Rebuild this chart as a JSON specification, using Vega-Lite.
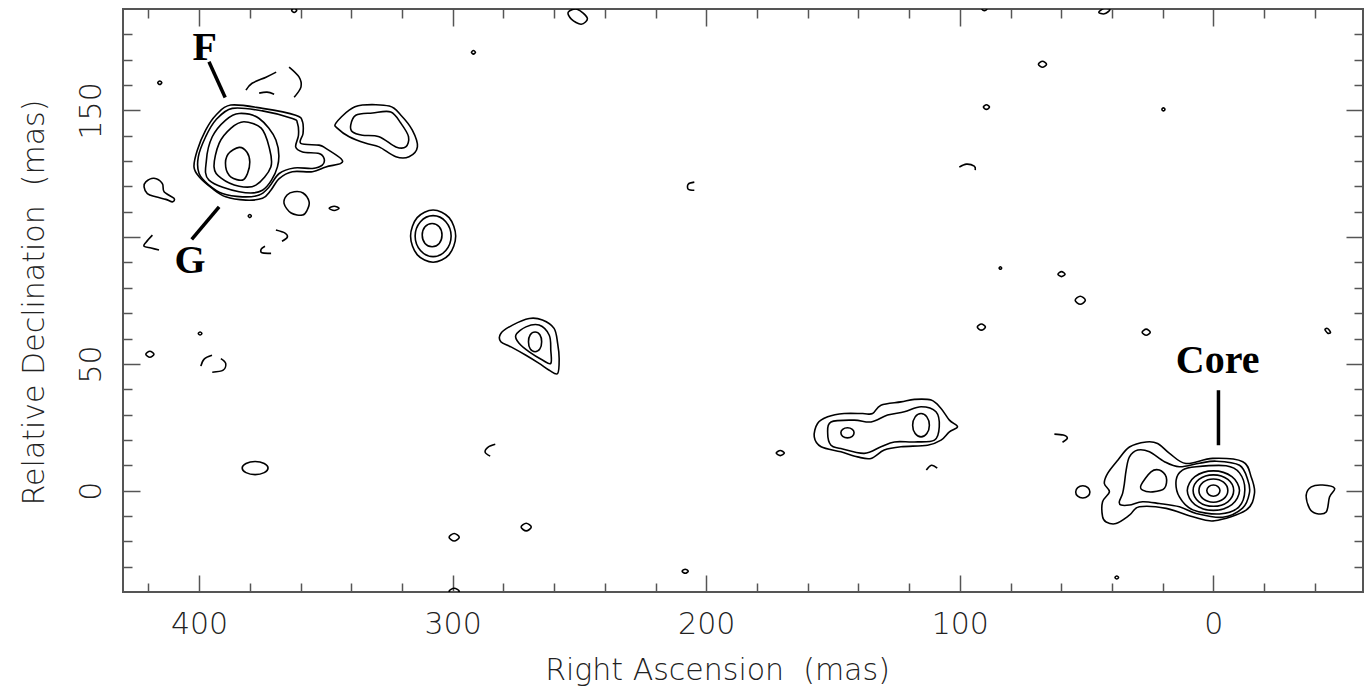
{
"$schema":"https://vega.github.io/schema/vega-lite/v6.json",
"width":1240,"height":583,
"autosize":"none",
"padding":{"left":123,"top":9,"right":1,"bottom":94},
"background":"white",
"view":{"stroke":"#555","strokeWidth":2},
"config":{"axis":{"labelFont":"DejaVu Sans","labelFontSize":30,"labelFontWeight":200,"labelColor":"#222","titleFont":"DejaVu Sans","titleFontSize":30,"titleFontWeight":200,"titleColor":"#222","tickColor":"#555","tickWidth":1.5,"domain":false,"grid":false,"labelFlush":false,"labelOverlap":false}},
"datasets":{
"closed":[
{"c":1,"i":0,"x":387.5,"y":152.1},{"c":1,"i":1,"x":375.0,"y":150.8},{"c":1,"i":2,"x":361.9,"y":148.1},{"c":1,"i":3,"x":359.2,"y":145.5},{"c":1,"i":4,"x":359.0,"y":140.9},{"c":1,"i":5,"x":359.9,"y":137.0},{"c":1,"i":6,"x":352.7,"y":136.3},{"c":1,"i":7,"x":350.0,"y":135.0},{"c":1,"i":8,"x":344.1,"y":131.0},{"c":1,"i":9,"x":344.1,"y":129.1},{"c":1,"i":10,"x":350.0,"y":127.7},{"c":1,"i":11,"x":355.3,"y":125.8},{"c":1,"i":12,"x":363.2,"y":125.8},{"c":1,"i":13,"x":368.4,"y":123.1},{"c":1,"i":14,"x":371.7,"y":118.5},{"c":1,"i":15,"x":375.0,"y":115.3},{"c":1,"i":16,"x":381.6,"y":114.6},{"c":1,"i":17,"x":389.5,"y":115.9},{"c":1,"i":18,"x":394.8,"y":119.2},{"c":1,"i":19,"x":400.0,"y":123.8},{"c":1,"i":20,"x":402.0,"y":127.7},{"c":1,"i":21,"x":400.7,"y":134.3},{"c":1,"i":22,"x":397.4,"y":142.2},{"c":1,"i":23,"x":393.4,"y":148.1},
{"c":2,"i":0,"x":386.9,"y":150.8},{"c":2,"i":1,"x":375.0,"y":149.8},{"c":2,"i":2,"x":363.2,"y":146.8},{"c":2,"i":3,"x":361.2,"y":144.9},{"c":2,"i":4,"x":360.8,"y":140.2},{"c":2,"i":5,"x":361.9,"y":135.6},{"c":2,"i":6,"x":359.2,"y":133.6},{"c":2,"i":7,"x":352.7,"y":133.0},{"c":2,"i":8,"x":350.7,"y":131.0},{"c":2,"i":9,"x":351.4,"y":128.4},{"c":2,"i":10,"x":355.3,"y":127.1},{"c":2,"i":11,"x":362.5,"y":127.3},{"c":2,"i":12,"x":368.4,"y":125.1},{"c":2,"i":13,"x":372.4,"y":119.8},{"c":2,"i":14,"x":376.3,"y":116.6},{"c":2,"i":15,"x":382.9,"y":115.9},{"c":2,"i":16,"x":390.8,"y":117.2},{"c":2,"i":17,"x":396.1,"y":120.5},{"c":2,"i":18,"x":400.0,"y":125.1},{"c":2,"i":19,"x":400.3,"y":131.7},{"c":2,"i":20,"x":397.4,"y":139.6},{"c":2,"i":21,"x":393.4,"y":146.2},
{"c":3,"i":0,"x":384.2,"y":148.8},{"c":3,"i":1,"x":376.3,"y":146.8},{"c":3,"i":2,"x":369.7,"y":138.3},{"c":3,"i":3,"x":369.1,"y":127.7},{"c":3,"i":4,"x":375.0,"y":118.5},{"c":3,"i":5,"x":384.2,"y":117.9},{"c":3,"i":6,"x":396.1,"y":122.5},{"c":3,"i":7,"x":397.1,"y":130.4},{"c":3,"i":8,"x":394.8,"y":139.6},{"c":3,"i":9,"x":389.5,"y":146.2},
{"c":4,"i":0,"x":382.3,"y":145.5},{"c":4,"i":1,"x":375.5,"y":143.0},{"c":4,"i":2,"x":372.4,"y":135.6},{"c":4,"i":3,"x":371.7,"y":127.7},{"c":4,"i":4,"x":377.6,"y":120.5},{"c":4,"i":5,"x":384.2,"y":120.1},{"c":4,"i":6,"x":391.3,"y":123.3},{"c":4,"i":7,"x":394.1,"y":127.7},{"c":4,"i":8,"x":392.1,"y":137.0},{"c":4,"i":9,"x":387.4,"y":143.0},
{"c":5,"i":0,"x":384.2,"y":135.4},{"c":5,"i":1,"x":381.1,"y":133.5},{"c":5,"i":2,"x":380.0,"y":129.6},{"c":5,"i":3,"x":380.9,"y":125.1},{"c":5,"i":4,"x":382.9,"y":122.5},{"c":5,"i":5,"x":387.4,"y":123.7},{"c":5,"i":6,"x":389.5,"y":127.7},{"c":5,"i":7,"x":388.6,"y":132.7},
{"c":6,"i":0,"x":421.0,"y":121.8},{"c":6,"i":1,"x":417.8,"y":123.2},{"c":6,"i":2,"x":414.5,"y":121.2},{"c":6,"i":3,"x":413.8,"y":117.9},{"c":6,"i":4,"x":409.9,"y":115.3},{"c":6,"i":5,"x":410.5,"y":113.9},{"c":6,"i":6,"x":413.1,"y":114.9},{"c":6,"i":7,"x":417.1,"y":115.9},{"c":6,"i":8,"x":420.4,"y":117.2},{"c":6,"i":9,"x":421.7,"y":119.8},
{"c":7,"i":0,"x":362.5,"y":117.9},{"c":7,"i":1,"x":359.0,"y":117.4},{"c":7,"i":2,"x":356.6,"y":113.9},{"c":7,"i":3,"x":357.4,"y":110.6},{"c":7,"i":4,"x":359.2,"y":108.7},{"c":7,"i":5,"x":363.7,"y":109.5},{"c":7,"i":6,"x":366.5,"y":113.3},{"c":7,"i":7,"x":365.3,"y":116.6},
{"c":8,"i":0,"x":348.7,"y":111.4},{"c":8,"i":1,"x":346.7,"y":112.2},{"c":8,"i":2,"x":344.8,"y":111.4},{"c":8,"i":3,"x":346.7,"y":110.5},
{"c":9,"i":0,"x":380.6,"y":108.3},{"c":9,"i":1,"x":380.0,"y":108.9},{"c":9,"i":2,"x":379.4,"y":108.3},{"c":9,"i":3,"x":380.0,"y":107.7},
{"c":10,"i":0,"x":416.3,"y":160.9},{"c":10,"i":1,"x":415.5,"y":161.6},{"c":10,"i":2,"x":414.7,"y":160.9},{"c":10,"i":3,"x":415.5,"y":160.2},
{"c":11,"i":0,"x":346.1,"y":144.9},{"c":11,"i":1,"x":340.8,"y":150.1},{"c":11,"i":2,"x":335.6,"y":152.1},{"c":11,"i":3,"x":325.0,"y":151.7},{"c":11,"i":4,"x":320.4,"y":148.1},{"c":11,"i":5,"x":315.9,"y":142.2},{"c":11,"i":6,"x":313.9,"y":135.6},{"c":11,"i":7,"x":317.2,"y":131.7},{"c":11,"i":8,"x":322.4,"y":131.7},{"c":11,"i":9,"x":329.0,"y":135.6},{"c":11,"i":10,"x":334.2,"y":137.0},{"c":11,"i":11,"x":340.8,"y":139.6},{"c":11,"i":12,"x":345.4,"y":142.9},
{"c":12,"i":0,"x":340.2,"y":144.2},{"c":12,"i":1,"x":338.2,"y":148.1},{"c":12,"i":2,"x":331.6,"y":149.0},{"c":12,"i":3,"x":324.4,"y":149.4},{"c":12,"i":4,"x":320.4,"y":144.9},{"c":12,"i":5,"x":317.4,"y":139.6},{"c":12,"i":6,"x":318.5,"y":135.6},{"c":12,"i":7,"x":322.4,"y":135.6},{"c":12,"i":8,"x":329.0,"y":139.6},{"c":12,"i":9,"x":335.6,"y":140.2},{"c":12,"i":10,"x":339.5,"y":141.5},
{"c":13,"i":0,"x":316.6,"y":100.4},{"c":13,"i":1,"x":314.0,"y":107.7},{"c":13,"i":2,"x":307.7,"y":110.7},{"c":13,"i":3,"x":301.4,"y":107.7},{"c":13,"i":4,"x":298.8,"y":100.4},{"c":13,"i":5,"x":301.4,"y":93.1},{"c":13,"i":6,"x":307.7,"y":90.1},{"c":13,"i":7,"x":314.0,"y":93.1},
{"c":14,"i":0,"x":314.8,"y":100.4},{"c":14,"i":1,"x":312.7,"y":106.1},{"c":14,"i":2,"x":307.7,"y":108.5},{"c":14,"i":3,"x":302.7,"y":106.1},{"c":14,"i":4,"x":300.6,"y":100.4},{"c":14,"i":5,"x":302.7,"y":94.7},{"c":14,"i":6,"x":307.7,"y":92.3},{"c":14,"i":7,"x":312.7,"y":94.7},
{"c":15,"i":0,"x":312.0,"y":100.8},{"c":15,"i":1,"x":310.9,"y":104.1},{"c":15,"i":2,"x":308.1,"y":105.4},{"c":15,"i":3,"x":305.3,"y":104.1},{"c":15,"i":4,"x":304.2,"y":100.8},{"c":15,"i":5,"x":305.3,"y":97.5},{"c":15,"i":6,"x":308.1,"y":96.2},{"c":15,"i":7,"x":310.9,"y":97.5},
{"c":16,"i":0,"x":281.0,"y":62.0},{"c":16,"i":1,"x":276.4,"y":65.3},{"c":16,"i":2,"x":269.8,"y":67.9},{"c":16,"i":3,"x":264.6,"y":67.3},{"c":16,"i":4,"x":260.0,"y":64.0},{"c":16,"i":5,"x":258.6,"y":58.1},{"c":16,"i":6,"x":258.0,"y":52.1},{"c":16,"i":7,"x":258.6,"y":46.2},{"c":16,"i":8,"x":261.9,"y":47.5},{"c":16,"i":9,"x":265.9,"y":50.2},{"c":16,"i":10,"x":271.1,"y":53.4},{"c":16,"i":11,"x":277.0,"y":56.7},{"c":16,"i":12,"x":281.0,"y":58.7},
{"c":17,"i":0,"x":275.1,"y":61.3},{"c":17,"i":1,"x":271.1,"y":64.6},{"c":17,"i":2,"x":265.9,"y":65.3},{"c":17,"i":3,"x":261.9,"y":61.3},{"c":17,"i":4,"x":261.3,"y":55.4},{"c":17,"i":5,"x":261.3,"y":50.2},{"c":17,"i":6,"x":264.6,"y":51.5},{"c":17,"i":7,"x":269.8,"y":54.7},{"c":17,"i":8,"x":273.8,"y":58.1},
{"c":18,"i":0,"x":270.1,"y":58.7},{"c":18,"i":1,"x":269.4,"y":61.5},{"c":18,"i":2,"x":267.5,"y":62.6},{"c":18,"i":3,"x":265.6,"y":61.5},{"c":18,"i":4,"x":264.9,"y":58.7},{"c":18,"i":5,"x":265.6,"y":55.9},{"c":18,"i":6,"x":267.5,"y":54.8},{"c":18,"i":7,"x":269.4,"y":55.9},
{"c":19,"i":0,"x":157.4,"y":21.2},{"c":19,"i":1,"x":156.1,"y":26.5},{"c":19,"i":2,"x":152.1,"y":29.1},{"c":19,"i":3,"x":145.6,"y":30.4},{"c":19,"i":4,"x":138.3,"y":30.4},{"c":19,"i":5,"x":134.4,"y":30.4},{"c":19,"i":6,"x":131.1,"y":33.7},{"c":19,"i":7,"x":123.2,"y":35.0},{"c":19,"i":8,"x":117.9,"y":36.0},{"c":19,"i":9,"x":111.3,"y":35.7},{"c":19,"i":10,"x":107.4,"y":32.4},{"c":19,"i":11,"x":104.1,"y":27.8},{"c":19,"i":12,"x":100.9,"y":25.2},{"c":19,"i":13,"x":104.1,"y":23.2},{"c":19,"i":14,"x":107.4,"y":19.9},{"c":19,"i":15,"x":112.7,"y":17.9},{"c":19,"i":16,"x":123.2,"y":17.3},{"c":19,"i":17,"x":129.8,"y":16.0},{"c":19,"i":18,"x":135.0,"y":12.7},{"c":19,"i":19,"x":140.3,"y":13.3},{"c":19,"i":20,"x":146.9,"y":15.3},{"c":19,"i":21,"x":154.7,"y":17.3},
{"c":20,"i":0,"x":152.1,"y":22.5},{"c":20,"i":1,"x":150.8,"y":27.1},{"c":20,"i":2,"x":141.6,"y":27.8},{"c":20,"i":3,"x":135.0,"y":27.1},{"c":20,"i":4,"x":128.5,"y":29.8},{"c":20,"i":5,"x":121.9,"y":31.1},{"c":20,"i":6,"x":115.3,"y":33.1},{"c":20,"i":7,"x":109.4,"y":31.1},{"c":20,"i":8,"x":108.1,"y":25.2},{"c":20,"i":9,"x":110.0,"y":19.9},{"c":20,"i":10,"x":117.9,"y":19.2},{"c":20,"i":11,"x":125.8,"y":19.2},{"c":20,"i":12,"x":131.1,"y":17.3},{"c":20,"i":13,"x":137.7,"y":14.7},{"c":20,"i":14,"x":146.9,"y":16.6},{"c":20,"i":15,"x":150.8,"y":17.9},
{"c":21,"i":0,"x":118.6,"y":25.8},{"c":21,"i":1,"x":117.6,"y":29.1},{"c":21,"i":2,"x":115.3,"y":30.4},{"c":21,"i":3,"x":113.0,"y":29.1},{"c":21,"i":4,"x":112.0,"y":25.8},{"c":21,"i":5,"x":113.0,"y":22.5},{"c":21,"i":6,"x":115.3,"y":21.2},{"c":21,"i":7,"x":117.6,"y":22.5},
{"c":22,"i":0,"x":146.9,"y":22.8},{"c":22,"i":1,"x":146.2,"y":24.2},{"c":22,"i":2,"x":144.3,"y":24.8},{"c":22,"i":3,"x":142.4,"y":24.2},{"c":22,"i":4,"x":141.7,"y":22.8},{"c":22,"i":5,"x":142.4,"y":21.4},{"c":22,"i":6,"x":144.3,"y":20.8},{"c":22,"i":7,"x":146.2,"y":21.4},
{"c":23,"i":0,"x":43.7,"y":-10.3},{"c":23,"i":1,"x":43.7,"y":-4.4},{"c":23,"i":2,"x":41.0,"y":-0.5},{"c":23,"i":3,"x":43.0,"y":2.8},{"c":23,"i":4,"x":41.7,"y":6.8},{"c":23,"i":5,"x":37.7,"y":12.0},{"c":23,"i":6,"x":33.1,"y":17.2},{"c":23,"i":7,"x":26.5,"y":19.2},{"c":23,"i":8,"x":22.0,"y":18.6},{"c":23,"i":9,"x":17.3,"y":14.7},{"c":23,"i":10,"x":10.8,"y":10.7},{"c":23,"i":11,"x":0.3,"y":12.7},{"c":23,"i":12,"x":-11.6,"y":11.4},{"c":23,"i":13,"x":-14.9,"y":5.4},{"c":23,"i":14,"x":-16.2,"y":-1.1},{"c":23,"i":15,"x":-12.9,"y":-7.7},{"c":23,"i":16,"x":-0.4,"y":-11.9},{"c":23,"i":17,"x":8.1,"y":-10.3},{"c":23,"i":18,"x":18.6,"y":-7.0},{"c":23,"i":19,"x":29.2,"y":-6.4},{"c":23,"i":20,"x":33.1,"y":-9.7},{"c":23,"i":21,"x":38.4,"y":-13.0},{"c":23,"i":22,"x":42.3,"y":-12.4},
{"c":24,"i":0,"x":37.1,"y":-4.4},{"c":24,"i":1,"x":35.8,"y":-1.1},{"c":24,"i":2,"x":35.1,"y":2.8},{"c":24,"i":3,"x":34.4,"y":8.1},{"c":24,"i":4,"x":33.1,"y":13.3},{"c":24,"i":5,"x":29.8,"y":16.0},{"c":24,"i":6,"x":25.2,"y":15.3},{"c":24,"i":7,"x":19.3,"y":11.4},{"c":24,"i":8,"x":13.4,"y":9.4},{"c":24,"i":9,"x":5.5,"y":10.8},{"c":24,"i":10,"x":-1.1,"y":11.6},{"c":24,"i":11,"x":-10.3,"y":10.0},{"c":24,"i":12,"x":-13.6,"y":4.1},{"c":24,"i":13,"x":-14.2,"y":-1.0},{"c":24,"i":14,"x":-11.5,"y":-6.9},{"c":24,"i":15,"x":-3.7,"y":-10.5},{"c":24,"i":16,"x":6.8,"y":-9.0},{"c":24,"i":17,"x":13.4,"y":-6.4},{"c":24,"i":18,"x":21.3,"y":-5.1},{"c":24,"i":19,"x":27.9,"y":-4.4},{"c":24,"i":20,"x":33.1,"y":-5.7},{"c":24,"i":21,"x":36.4,"y":-5.7},
{"c":25,"i":0,"x":14.7,"y":4.1},{"c":25,"i":1,"x":12.2,"y":8.1},{"c":25,"i":2,"x":6.8,"y":9.4},{"c":25,"i":3,"x":-5.0,"y":9.8},{"c":25,"i":4,"x":-10.3,"y":7.0},{"c":25,"i":5,"x":-12.4,"y":0.2},{"c":25,"i":6,"x":-10.0,"y":-6.5},{"c":25,"i":7,"x":-2.4,"y":-9.2},{"c":25,"i":8,"x":8.1,"y":-7.6},{"c":25,"i":9,"x":13.4,"y":-2.5},
{"c":26,"i":0,"x":10.3,"y":0},{"c":26,"i":1,"x":7.3,"y":5.5},{"c":26,"i":2,"x":0,"y":7.8},{"c":26,"i":3,"x":-7.3,"y":5.5},{"c":26,"i":4,"x":-10.3,"y":0},{"c":26,"i":5,"x":-7.3,"y":-5.5},{"c":26,"i":6,"x":0,"y":-7.8},{"c":26,"i":7,"x":7.3,"y":-5.5},
{"c":27,"i":0,"x":8.0,"y":0},{"c":27,"i":1,"x":5.7,"y":4.4},{"c":27,"i":2,"x":0,"y":6.2},{"c":27,"i":3,"x":-5.7,"y":4.4},{"c":27,"i":4,"x":-8.0,"y":0},{"c":27,"i":5,"x":-5.7,"y":-4.4},{"c":27,"i":6,"x":0,"y":-6.2},{"c":27,"i":7,"x":5.7,"y":-4.4},
{"c":28,"i":0,"x":5.7,"y":0},{"c":28,"i":1,"x":4.0,"y":3.3},{"c":28,"i":2,"x":0,"y":4.6},{"c":28,"i":3,"x":-4.0,"y":3.3},{"c":28,"i":4,"x":-5.7,"y":0},{"c":28,"i":5,"x":-4.0,"y":-3.3},{"c":28,"i":6,"x":0,"y":-4.6},{"c":28,"i":7,"x":4.0,"y":-3.3},
{"c":29,"i":0,"x":2.6,"y":0},{"c":29,"i":1,"x":1.8,"y":1.6},{"c":29,"i":2,"x":0,"y":2.2},{"c":29,"i":3,"x":-1.8,"y":1.6},{"c":29,"i":4,"x":-2.6,"y":0},{"c":29,"i":5,"x":-1.8,"y":-1.6},{"c":29,"i":6,"x":0,"y":-2.2},{"c":29,"i":7,"x":1.8,"y":-1.6},
{"c":30,"i":0,"x":28.5,"y":2.2},{"c":30,"i":1,"x":24.6,"y":7.4},{"c":30,"i":2,"x":21.3,"y":8.1},{"c":30,"i":3,"x":18.6,"y":5.4},{"c":30,"i":4,"x":19.3,"y":0.9},{"c":30,"i":5,"x":23.9,"y":-0.5},{"c":30,"i":6,"x":27.9,"y":0.2},
{"c":31,"i":0,"x":54.3,"y":-0.5},{"c":31,"i":1,"x":53.5,"y":1.2},{"c":31,"i":2,"x":51.5,"y":1.9},{"c":31,"i":3,"x":49.5,"y":1.2},{"c":31,"i":4,"x":48.7,"y":-0.5},{"c":31,"i":5,"x":49.5,"y":-2.2},{"c":31,"i":6,"x":51.5,"y":-2.9},{"c":31,"i":7,"x":53.5,"y":-2.2},
{"c":32,"i":0,"x":-36.6,"y":-1.8},{"c":32,"i":1,"x":-38.6,"y":1.5},{"c":32,"i":2,"x":-43.1,"y":2.2},{"c":32,"i":3,"x":-47.8,"y":0.9},{"c":32,"i":4,"x":-45.8,"y":-2.5},{"c":32,"i":5,"x":-44.5,"y":-8.4},{"c":32,"i":6,"x":-40.5,"y":-9.0},{"c":32,"i":7,"x":-37.9,"y":-7.0},
{"c":33,"i":0,"x":254.4,"y":188.8},{"c":33,"i":1,"x":250.9,"y":189.9},{"c":33,"i":2,"x":246.9,"y":186.4},{"c":33,"i":3,"x":249.3,"y":184.0},{"c":33,"i":4,"x":253.2,"y":186.0},
{"c":34,"i":0,"x":292.6,"y":172.9},{"c":34,"i":1,"x":291.8,"y":173.6},{"c":34,"i":2,"x":291.0,"y":172.9},{"c":34,"i":3,"x":291.8,"y":172.2},
{"c":35,"i":0,"x":363.5,"y":189.5},{"c":35,"i":1,"x":362.5,"y":190.4},{"c":35,"i":2,"x":361.5,"y":189.5},{"c":35,"i":3,"x":362.5,"y":188.6},
{"c":36,"i":0,"x":91.3,"y":190.0},{"c":36,"i":1,"x":90.3,"y":190.7},{"c":36,"i":2,"x":89.3,"y":190.0},{"c":36,"i":3,"x":90.3,"y":189.3},
{"c":37,"i":0,"x":45.2,"y":188.7},{"c":37,"i":1,"x":43.0,"y":190.3},{"c":37,"i":2,"x":40.8,"y":189.7},{"c":37,"i":3,"x":43.0,"y":188.1},
{"c":38,"i":0,"x":20.3,"y":150.4},{"c":38,"i":1,"x":19.7,"y":151.0},{"c":38,"i":2,"x":19.1,"y":150.4},{"c":38,"i":3,"x":19.7,"y":149.8},
{"c":39,"i":0,"x":69.0,"y":168.2},{"c":39,"i":1,"x":67.4,"y":169.4},{"c":39,"i":2,"x":65.8,"y":168.2},{"c":39,"i":3,"x":67.4,"y":167.0},
{"c":40,"i":0,"x":90.7,"y":151.3},{"c":40,"i":1,"x":89.5,"y":152.2},{"c":40,"i":2,"x":88.3,"y":151.3},{"c":40,"i":3,"x":89.5,"y":150.4},
{"c":41,"i":0,"x":84.5,"y":87.8},{"c":41,"i":1,"x":84.0,"y":88.3},{"c":41,"i":2,"x":83.5,"y":87.8},{"c":41,"i":3,"x":84.0,"y":87.3},
{"c":42,"i":0,"x":61.3,"y":85.4},{"c":42,"i":1,"x":59.9,"y":86.4},{"c":42,"i":2,"x":58.5,"y":85.4},{"c":42,"i":3,"x":59.9,"y":84.4},
{"c":43,"i":0,"x":54.5,"y":75.1},{"c":43,"i":1,"x":52.5,"y":76.7},{"c":43,"i":2,"x":50.5,"y":75.1},{"c":43,"i":3,"x":52.5,"y":73.5},
{"c":44,"i":0,"x":93.1,"y":64.5},{"c":44,"i":1,"x":91.5,"y":65.7},{"c":44,"i":2,"x":89.9,"y":64.5},{"c":44,"i":3,"x":91.5,"y":63.3},
{"c":45,"i":0,"x":28.1,"y":62.5},{"c":45,"i":1,"x":26.5,"y":63.7},{"c":45,"i":2,"x":24.9,"y":62.5},{"c":45,"i":3,"x":26.5,"y":61.3},
{"c":46,"i":0,"x":-44.0,"y":63.6},{"c":46,"i":1,"x":-45.1,"y":63.9},{"c":46,"i":2,"x":-46.2,"y":62.4},{"c":46,"i":3,"x":-45.1,"y":62.1},
{"c":47,"i":0,"x":172.4,"y":14.8},{"c":47,"i":1,"x":170.8,"y":15.8},{"c":47,"i":2,"x":169.2,"y":14.8},{"c":47,"i":3,"x":170.8,"y":13.8},
{"c":48,"i":0,"x":38.8,"y":-34.3},{"c":48,"i":1,"x":38.1,"y":-33.7},{"c":48,"i":2,"x":37.4,"y":-34.3},{"c":48,"i":3,"x":38.1,"y":-34.9},
{"c":49,"i":0,"x":209.5,"y":-31.8},{"c":49,"i":1,"x":208.3,"y":-31.0},{"c":49,"i":2,"x":207.1,"y":-31.8},{"c":49,"i":3,"x":208.3,"y":-32.6},
{"c":50,"i":0,"x":273.0,"y":-14.4},{"c":50,"i":1,"x":271.0,"y":-12.9},{"c":50,"i":2,"x":269.0,"y":-14.4},{"c":50,"i":3,"x":271.0,"y":-15.9},
{"c":51,"i":0,"x":301.4,"y":-18.4},{"c":51,"i":1,"x":299.4,"y":-16.9},{"c":51,"i":2,"x":297.4,"y":-18.4},{"c":51,"i":3,"x":299.4,"y":-19.9},
{"c":52,"i":0,"x":301.4,"y":-39.7},{"c":52,"i":1,"x":299.4,"y":-38.5},{"c":52,"i":2,"x":297.4,"y":-39.7},{"c":52,"i":3,"x":299.4,"y":-40.9},
{"c":53,"i":0,"x":383.0,"y":8.9},{"c":53,"i":1,"x":381.5,"y":10.7},{"c":53,"i":2,"x":377.9,"y":11.5},{"c":53,"i":3,"x":374.3,"y":10.7},{"c":53,"i":4,"x":372.8,"y":8.9},{"c":53,"i":5,"x":374.3,"y":7.1},{"c":53,"i":6,"x":377.9,"y":6.3},{"c":53,"i":7,"x":381.5,"y":7.1},
{"c":54,"i":0,"x":421.0,"y":53.8},{"c":54,"i":1,"x":419.4,"y":55.0},{"c":54,"i":2,"x":417.8,"y":53.8},{"c":54,"i":3,"x":419.4,"y":52.6},
{"c":55,"i":0,"x":400.3,"y":62.0},{"c":55,"i":1,"x":399.6,"y":62.6},{"c":55,"i":2,"x":398.9,"y":62.0},{"c":55,"i":3,"x":399.6,"y":61.4}
],
"open":[
{"c":1,"i":0,"x":381.5,"y":158.0},{"c":1,"i":1,"x":379.1,"y":160.7},{"c":1,"i":2,"x":373.6,"y":163.1},{"c":1,"i":3,"x":369.6,"y":165.1},
{"c":2,"i":0,"x":376.3,"y":156.8},{"c":2,"i":1,"x":373.2,"y":157.2},{"c":2,"i":2,"x":370.4,"y":156.4},
{"c":3,"i":0,"x":364.5,"y":167.1},{"c":3,"i":1,"x":360.6,"y":163.2},{"c":3,"i":2,"x":359.8,"y":159.3},{"c":3,"i":3,"x":362.5,"y":155.2},
{"c":4,"i":0,"x":418.4,"y":100.8},{"c":4,"i":1,"x":420.9,"y":98.0},{"c":4,"i":2,"x":421.7,"y":96.4},{"c":4,"i":3,"x":418.9,"y":95.7},{"c":4,"i":4,"x":415.8,"y":94.9},
{"c":5,"i":0,"x":369.7,"y":102.8},{"c":5,"i":1,"x":366.1,"y":101.6},{"c":5,"i":2,"x":365.2,"y":100.0},{"c":5,"i":3,"x":367.3,"y":98.4},
{"c":6,"i":0,"x":374.0,"y":96.4},{"c":6,"i":1,"x":375.5,"y":95.3},{"c":6,"i":2,"x":375.2,"y":93.8},{"c":6,"i":3,"x":371.6,"y":93.6},
{"c":7,"i":0,"x":100.2,"y":127.6},{"c":7,"i":1,"x":97.4,"y":128.8},{"c":7,"i":2,"x":94.3,"y":128.0},{"c":7,"i":3,"x":93.9,"y":126.4},
{"c":8,"i":0,"x":204.7,"y":121.7},{"c":8,"i":1,"x":207.1,"y":120.9},{"c":8,"i":2,"x":207.1,"y":118.9},{"c":8,"i":3,"x":204.7,"y":118.5},
{"c":9,"i":0,"x":62.7,"y":22.3},{"c":9,"i":1,"x":59.2,"y":21.9},{"c":9,"i":2,"x":57.6,"y":20.7},{"c":9,"i":3,"x":59.5,"y":19.1},
{"c":10,"i":0,"x":113.2,"y":8.1},{"c":10,"i":1,"x":111.2,"y":10.0},{"c":10,"i":2,"x":108.9,"y":8.9},
{"c":11,"i":0,"x":283.2,"y":18.3},{"c":11,"i":1,"x":286.0,"y":17.2},{"c":11,"i":2,"x":287.2,"y":15.2},{"c":11,"i":3,"x":285.2,"y":13.6},
{"c":12,"i":0,"x":394.9,"y":53.4},{"c":12,"i":1,"x":398.0,"y":51.9},{"c":12,"i":2,"x":399.3,"y":49.1},
{"c":13,"i":0,"x":391.4,"y":52.1},{"c":13,"i":1,"x":389.5,"y":50.2},{"c":13,"i":2,"x":390.5,"y":47.5},{"c":13,"i":3,"x":394.8,"y":46.7}
],
"leaders":[
{"x":396.1,"y":169.2,"x2":389.7,"y2":155.1},
{"x":392.1,"y":111.9,"x2":402.9,"y2":99.1},
{"x":-2.0,"y":39.6,"x2":-2.0,"y2":17.9}
],
"labels":[
{"t":"F","x":397.8,"y":169.8},
{"t":"G","x":403.6,"y":85.8},
{"t":"Core","x":-1.7,"y":46.5}
]
},
"resolve":{"axis":{"x":"independent","y":"independent"}},
"layer":[
{"data":{"name":"closed"},
 "mark":{"type":"line","interpolate":"cardinal-closed","color":"black","strokeWidth":1.6,"clip":true},
 "encoding":{
  "x":{"field":"x","type":"quantitative","scale":{"domain":[-59,430],"reverse":true,"nice":false,"zero":false},
       "axis":{"orient":"bottom","values":[0,100,200,300,400],"tickSize":-17,"labelPadding":58,"labelBaseline":"alphabetic","title":"Right Ascension\u00a0 (mas)","titleX":594,"titleY":87,"titleAlign":"center","titleBaseline":"alphabetic","titleAnchor":null}},
  "y":{"field":"y","type":"quantitative","scale":{"domain":[-40,190],"nice":false,"zero":false},
       "axis":{"orient":"left","values":[0,50,100,150],"tickSize":-17,"labelAngle":270,"labelAlign":"center","labelBaseline":"alphabetic","labelPadding":40,"labelExpr":"datum.value == 100 ? '' : datum.label","title":"Relative Declination\u00a0 (mas)","titleAngle":270,"titleX":-80,"titleY":293,"titleAlign":"center","titleBaseline":"alphabetic"}},
  "detail":{"field":"c","type":"nominal"},
  "order":{"field":"i","type":"quantitative"}}},
{"data":{"name":"open"},
 "mark":{"type":"line","interpolate":"cardinal","color":"black","strokeWidth":1.6,"clip":true},
 "encoding":{
  "x":{"field":"x","type":"quantitative","scale":{"domain":[-59,430],"reverse":true,"nice":false,"zero":false},
       "axis":{"orient":"bottom","values":[-40,-20,20,40,60,80,120,140,160,180,220,240,260,280,320,340,360,380,420],"tickSize":-9,"labels":false,"title":null}},
  "y":{"field":"y","type":"quantitative","scale":{"domain":[-40,190],"nice":false,"zero":false},
       "axis":{"orient":"left","values":[-30,-20,-10,10,20,30,40,60,70,80,90,110,120,130,140,160,170,180],"tickSize":-9,"labels":false,"title":null}},
  "detail":{"field":"c","type":"nominal"},
  "order":{"field":"i","type":"quantitative"}}},
{"data":{"name":"leaders"},
 "mark":{"type":"rule","color":"black","strokeWidth":3.5},
 "encoding":{
  "x":{"field":"x","type":"quantitative","scale":{"domain":[-59,430],"reverse":true,"nice":false,"zero":false},
       "axis":{"orient":"top","values":[0,100,200,300,400],"tickSize":-17,"labels":false,"title":null}},
  "y":{"field":"y","type":"quantitative","scale":{"domain":[-40,190],"nice":false,"zero":false},
       "axis":{"orient":"right","values":[0,50,100,150],"tickSize":-17,"labels":false,"title":null}},
  "x2":{"field":"x2"},"y2":{"field":"y2"}}},
{"data":{"name":"labels"},
 "mark":{"type":"text","font":"Liberation Serif","fontWeight":"bold","fontSize":40,"color":"black","align":"center","baseline":"alphabetic"},
 "encoding":{
  "x":{"field":"x","type":"quantitative","scale":{"domain":[-59,430],"reverse":true,"nice":false,"zero":false},
       "axis":{"orient":"top","values":[-40,-20,20,40,60,80,120,140,160,180,220,240,260,280,320,340,360,380,420],"tickSize":-9,"labels":false,"title":null}},
  "y":{"field":"y","type":"quantitative","scale":{"domain":[-40,190],"nice":false,"zero":false},
       "axis":{"orient":"right","values":[-30,-20,-10,10,20,30,40,60,70,80,90,110,120,130,140,160,170,180],"tickSize":-9,"labels":false,"title":null}},
  "text":{"field":"t","type":"nominal"}}}
]
}
